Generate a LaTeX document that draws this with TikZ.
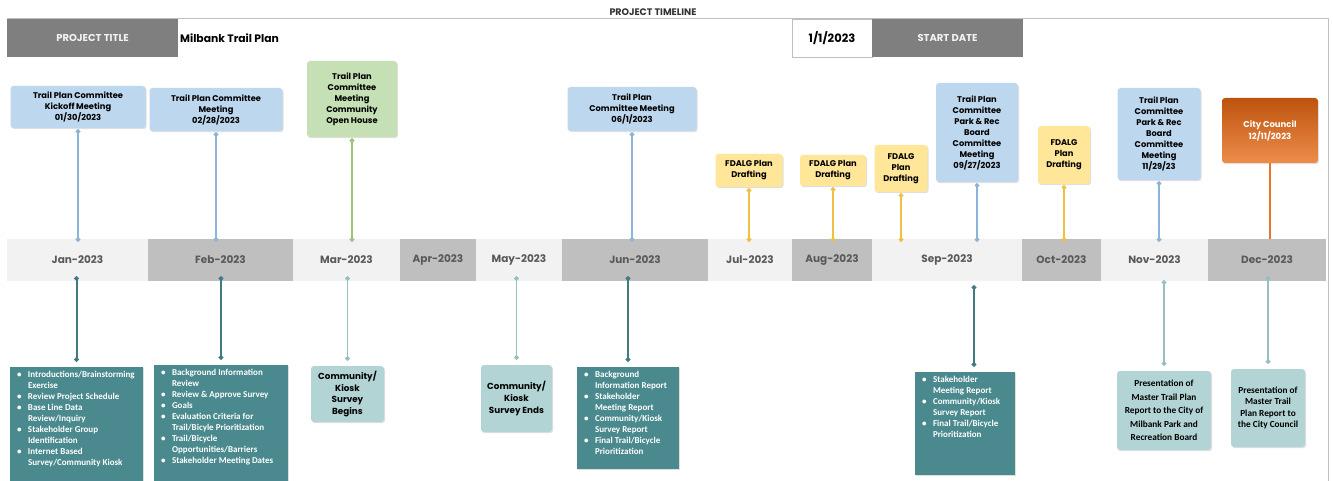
\documentclass[tikz,border=0pt]{standalone}
\usepackage{fontspec}
\setmainfont{Poppins}
\newfontfamily\calfont{Carlito}
\usetikzlibrary{arrows.meta,shadows}

\definecolor{hdrgray}{HTML}{7F7F7F}
\definecolor{rulegray}{HTML}{BFBFBF}
\definecolor{monthlt}{HTML}{F2F2F2}
\definecolor{monthdk}{HTML}{BFBFBF}
\definecolor{monthtxt}{HTML}{595959}
\definecolor{meetfill}{HTML}{BDD7EE}
\definecolor{meetln}{HTML}{8DB3D9}
\definecolor{greenfill}{HTML}{C5E0B4}
\definecolor{greenln}{HTML}{9CC67E}
\definecolor{draftfill}{HTML}{FFE699}
\definecolor{draftln}{HTML}{F0C040}
\definecolor{councilA}{HTML}{BD540E}
\definecolor{councilB}{HTML}{EE8C4A}
\definecolor{councilln}{HTML}{E4772A}
\definecolor{notefill}{HTML}{4A898D}
\definecolor{noteln}{HTML}{3F7B80}
\definecolor{surveyfill}{HTML}{B3D4D4}
\definecolor{surveyln}{HTML}{96BFBF}

% bullet list inside the teal boxes
\newcommand\notelist[3]{\parbox[c][#2][t]{#1}{\calfont\bfseries\fontsize{9}{11}\selectfont
  \color{white}\vspace*{4pt}#3}}
\newcommand\nitem[1]{\par\hangindent=11pt\hangafter=1\noindent\makebox[11pt][l]{\textbullet}#1\hfill}

\tikzset{
  hdrbox/.style={fill=hdrgray, text=monthlt, font=\bfseries\fontsize{10}{12}\selectfont,
    minimum height=38pt, inner sep=0pt},
  monthcell/.style={minimum height=42pt, inner sep=0pt, text=monthtxt,
    font=\bfseries\fontsize{10.5}{12}\selectfont},
  monthA/.style={monthcell, fill=monthlt},
  monthB/.style={monthcell, fill=monthdk},
  evbox/.style={align=center, inner sep=1pt, rounded corners=3pt,
    font=\bfseries\fontsize{8.3}{11}\selectfont,
    drop shadow={shadow xshift=1pt, shadow yshift=-1.2pt, opacity=.25}},
  meetbox/.style={evbox, fill=meetfill},
  greenbox/.style={evbox, fill=greenfill},
  draftbox/.style={evbox, fill=draftfill},
  councilbox/.style={evbox, top color=councilA, bottom color=councilB, text=white,
    font=\bfseries\fontsize{8.5}{12}\selectfont},
  notebox/.style={fill=notefill, inner xsep=7pt, inner ysep=0pt,
    drop shadow={shadow xshift=1pt, shadow yshift=-1.2pt, opacity=.25}},
  surveybox/.style={evbox, fill=surveyfill, font=\bfseries\fontsize{8.8}{11.7}\selectfont},
  stem/.style={line width=1.5pt, {Circle[length=4.5pt]}-{Circle[length=4.5pt]}},
  meetline/.style={stem, draw=meetln, shorten <=1pt, shorten >=-3pt},
  greenline/.style={meetline, draw=greenln},
  draftline/.style={meetline, draw=draftln},
  councilline/.style={stem, -, draw=councilln},
  noteline/.style={stem, line width=2pt, draw=noteln, shorten <=-5pt, shorten >=5pt},
  surveyline/.style={noteline, line width=1.5pt, draw=surveyln}
}

\begin{document}
\begin{tikzpicture}[x=1pt, y=-1pt]
  \path[use as bounding box, fill=white] (0,0) rectangle (1333,481);
  \draw[rulegray, line width=1pt] (7,19) -- (1328,19) -- (1328,481);

  % header
  \node[font=\bfseries\fontsize{9.5}{10}\selectfont, text=black!80] (ptl) at (653,12) {PROJECT TIMELINE};
  \node[hdrbox, minimum width=171pt] (ptitle) at (92.5,38) {PROJECT TITLE};
  \node[anchor=west, inner sep=0pt, font=\bfseries\fontsize{10.8}{12}\selectfont] (pname) at (180,38) {Milbank Trail Plan};
  \node[draw=rulegray, minimum width=80pt, minimum height=38pt, inner sep=0pt,
    font=\bfseries\fontsize{11.5}{12}\selectfont] (sdate) at (832,38) {1/1/2023};
  \node[hdrbox, minimum width=151pt] (slabel) at (947.5,38) {START DATE};

  % month band
  \node[monthA, minimum width=141pt] (jan) at (77.5,260) {Jan-2023};
  \node[monthB, minimum width=145pt] (feb) at (220.5,260) {Feb-2023};
  \node[monthA, minimum width=107pt] (mar) at (346.5,260) {Mar-2023};
  \node[monthB, minimum width=76pt] (apr) at (438,260) {Apr-2023};
  \node[monthA, minimum width=86pt] (may) at (519,260) {May-2023};
  \node[monthB, minimum width=146pt] (jun) at (635,260) {Jun-2023};
  \node[monthA, minimum width=84pt] (jul) at (750,260) {Jul-2023};
  \node[monthB, minimum width=80pt] (aug) at (832,260) {Aug-2023};
  \node[monthA, minimum width=150pt] (sep) at (947,260) {Sep-2023};
  \node[monthB, minimum width=79pt] (oct) at (1061.5,260) {Oct-2023};
  \node[monthA, minimum width=107pt] (nov) at (1154.5,260) {Nov-2023};
  \node[monthB, minimum width=118pt] (dec) at (1267,260) {Dec-2023};

  % events above the band
  \node[meetbox, minimum width=135pt, minimum height=42pt] (e1) at (78,107)
    {Trail Plan Committee\\Kickoff Meeting\\01/30/2023};
  \node[meetbox, minimum width=133pt, minimum height=43pt] (e2) at (216,109.5)
    {Trail Plan Committee\\Meeting\\02/28/2023};
  \node[greenbox, minimum width=90pt, minimum height=76pt] (e3) at (352,99)
    {Trail Plan\\Committee\\Meeting\\Community\\Open House};
  \node[meetbox, minimum width=129pt, minimum height=44pt] (e4) at (632,109)
    {Trail Plan\\Committee Meeting\\06/1/2023};
  \node[draftbox, minimum width=67pt, minimum height=33pt] (e5) at (749,170.5)
    {FDALG Plan\\Drafting};
  \node[draftbox, minimum width=66pt, minimum height=31pt] (e6) at (833,170.5)
    {FDALG Plan\\Drafting};
  \node[draftbox, minimum width=53pt, minimum height=47pt] (e7) at (901,168.5)
    {FDALG\\Plan\\Drafting};
  \node[meetbox, minimum width=82pt, minimum height=99pt] (e8) at (977,132.5)
    {Trail Plan\\Committee\\Park \& Rec\\Board\\Committee\\Meeting\\09/27/2023};
  \node[draftbox, minimum width=52pt, minimum height=58pt] (e9) at (1064,155)
    {FDALG\\Plan\\Drafting};
  \node[meetbox, minimum width=83pt, minimum height=92pt] (e10) at (1159,134)
    {Trail Plan\\Committee\\Park \& Rec\\Board\\Committee\\Meeting\\11/29/23};
  \node[councilbox, minimum width=96pt, minimum height=65pt] (e11) at (1270,130.5)
    {City Council\\12/11/2023};

  % notes below the band
  \node[notebox] (n1) at (76.5,427) {\notelist{119pt}{120pt}{%
    \nitem{Introductions/Brainstorming\\Exercise}
    \nitem{Review Project Schedule}
    \nitem{Base Line Data\\Review/Inquiry}
    \nitem{Stakeholder Group\\Identification}
    \nitem{Internet Based\\Survey/Community Kiosk}}};
  \node[notebox] (n2) at (221,427) {\notelist{120pt}{124pt}{%
    \nitem{Background Information\\Review}
    \nitem{Review \& Approve Survey}
    \nitem{Goals}
    \nitem{Evaluation Criteria for\\Trail/Bicyle Prioritization}
    \nitem{Trail/Bicycle\\Opportunities/Barriers}
    \nitem{Stakeholder Meeting Dates}}};
  \node[surveybox, minimum width=73pt, minimum height=56pt] (n3) at (347.5,394)
    {Community/\\Kiosk\\Survey\\Begins};
  \node[surveybox, minimum width=71pt, minimum height=67pt] (n4) at (516.5,398.5)
    {Community/\\Kiosk\\Survey Ends};
  \node[notebox] (n5) at (628,418) {\notelist{88pt}{102pt}{%
    \nitem{Background\\Information Report}
    \nitem{Stakeholder\\Meeting Report}
    \nitem{Community/Kiosk\\Survey Report}
    \nitem{Final Trail/Bicycle\\Prioritization}}};
  \node[notebox] (n6) at (965,423.5) {\notelist{86pt}{103pt}{%
    \nitem{Stakeholder\\Meeting Report}
    \nitem{Community/Kiosk\\Survey Report}
    \nitem{Final Trail/Bicycle\\Prioritization}}};
  \node[surveybox, minimum width=94pt, minimum height=79pt,
    font=\calfont\bfseries\fontsize{9.3}{13.5}\selectfont] (n7) at (1164,410.5)
    {Presentation of\\Master Trail Plan\\Report to the City of\\Milbank Park and\\Recreation Board};
  \node[surveybox, minimum width=74pt, minimum height=78pt,
    font=\calfont\bfseries\fontsize{9.3}{11.5}\selectfont] (n8) at (1268,408)
    {Presentation of\\Master Trail\\Plan Report to\\the City Council};

  % stems
  \begin{scope}
    \draw[meetline] (e1.south) to (e1.south |- jan.north);
    \draw[meetline] (e2.south) to (e2.south |- feb.north);
    \draw[greenline] (e3.south) to (e3.south |- mar.north);
    \draw[meetline] (e4.south) to (e4.south |- jun.north);
    \draw[draftline] (e5.south) to (e5.south |- jul.north);
    \draw[draftline] (e6.south) to (e6.south |- aug.north);
    \draw[draftline] (e7.south) to (e7.south |- sep.north);
    \draw[meetline] (e8.south) to (e8.south |- sep.north);
    \draw[draftline] (e9.south) to (e9.south |- oct.north);
    \draw[meetline] (e10.south) to (e10.south |- nov.north);
    \draw[councilline] (e11.south) to (e11.south |- dec.north);
    \draw[noteline] (n1.north |- jan.south) to (n1.north);
    \draw[noteline] (n2.north |- feb.south) to (n2.north);
    \draw[surveyline] (n3.north |- mar.south) to (n3.north);
    \draw[surveyline] (n4.north |- may.south) to (n4.north);
    \draw[noteline] (n5.north |- jun.south) to (n5.north);
    \draw[noteline, shorten <=4pt] ([xshift=9pt]n6.north |- sep.south) to ([xshift=9pt]n6.north);
    \draw[surveyline, shorten <=-1pt] (n7.north |- nov.south) to (n7.north);
    \draw[surveyline] (n8.north |- dec.south) to (n8.north);
  \end{scope}
\end{tikzpicture}
\end{document}
